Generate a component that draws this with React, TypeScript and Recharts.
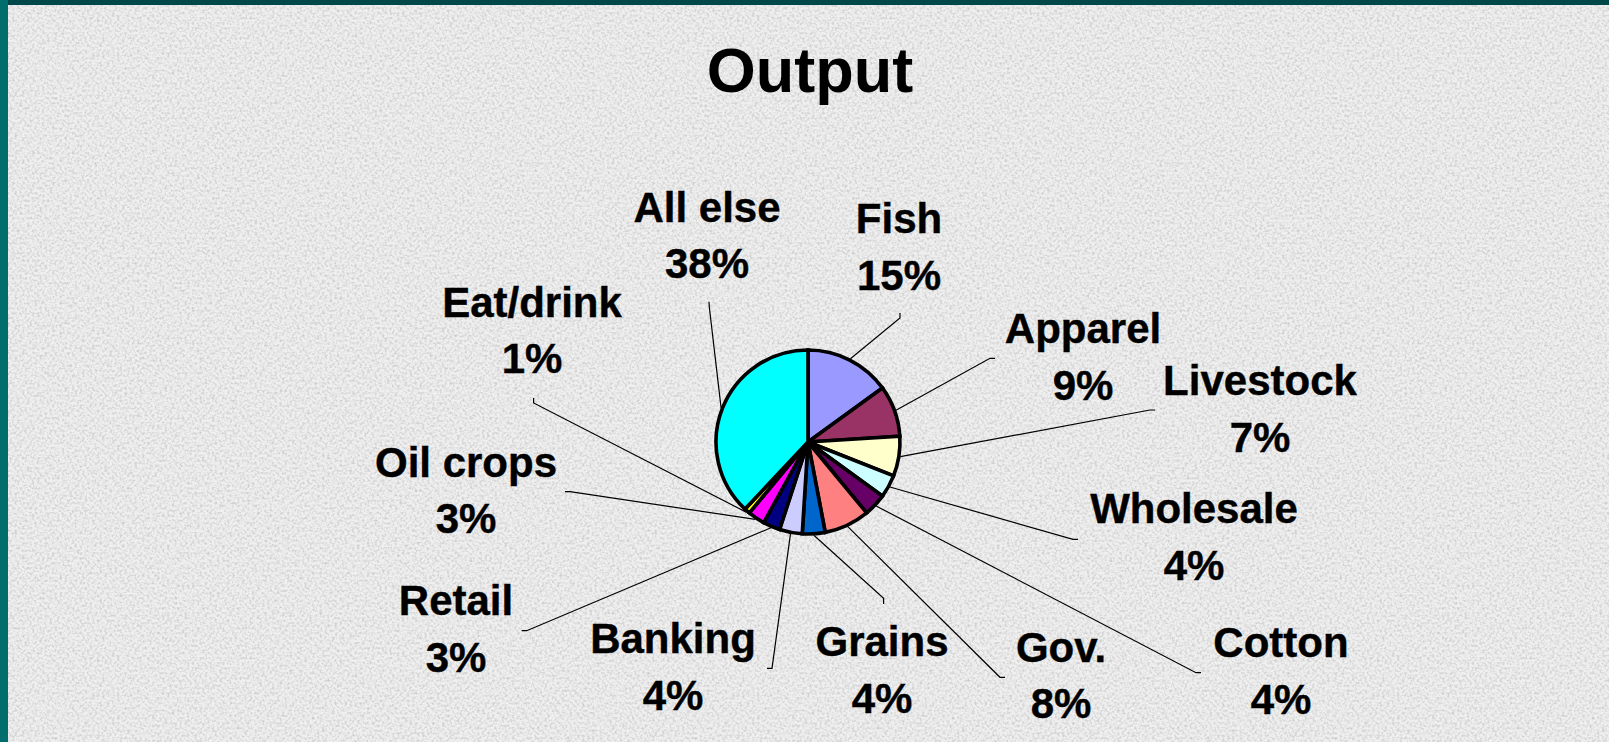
import React from 'react';
import { PieChart, Pie, Cell } from 'recharts';

const categories = ['Fish', 'Apparel', 'Livestock', 'Wholesale', 'Cotton', 'Gov.', 'Grains', 'Banking', 'Retail', 'Oil crops', 'Eat/drink', 'All else'];
const shares = [15, 9, 7, 4, 4, 8, 4, 4, 3, 3, 1, 38];
const sliceColors = ['#9999FF', '#993366', '#FFFFCC', '#CCFFFF', '#660066', '#FF8080', '#0066CC', '#CCCCFF', '#000080', '#FF00FF', '#FFFF00', '#00FFFF'];

const data = categories.map((name, i) => ({ name, value: shares[i] }));

// label layout (offsets from pie centre): text centre/baseline, leader bend and end
const labelLayout = [
  { tx: 91, ty: -208.7, bx: 92, by: -124, ex: 92, ey: -129 },
  { tx: 275, ty: -98.7, bx: 182, by: -83.7, ex: 187, ey: -83.7 },
  { tx: 452, ty: -47, bx: 342, by: -32, ex: 347, ey: -32 },
  { tx: 386, ty: 81.3, bx: 265, by: 97.3, ex: 270, ey: 97.3 },
  { tx: 473, ty: 215, bx: 388, by: 230.7, ex: 393, ey: 230.7 },
  { tx: 253, ty: 219.7, bx: 192, by: 235.3, ex: 197, ey: 235.3 },
  { tx: 74, ty: 214, bx: 75.6, by: 156.3, ex: 75.6, ey: 162 },
  { tx: -135, ty: 211.3, bx: -36, by: 226.3, ex: -41, ey: 226.3 },
  { tx: -352, ty: 173, bx: -281.3, by: 188.7, ex: -286.3, ey: 188.7 },
  { tx: -342, ty: 34.7, bx: -238, by: 49.7, ex: -243, ey: 49.7 },
  { tx: -276, ty: -125.3, bx: -274.4, by: -39, ex: -274.4, ey: -44 },
  { tx: -101, ty: -220.3, bx: -98.7, by: -135, ex: -99, ey: -140.3 },
];

const FONT = '"Liberation Sans", Arial, Helvetica, sans-serif';
const RAD = Math.PI / 180;

const renderLabel = (props: any) => {
  const { cx, cy, midAngle, outerRadius, index, name, value } = props;
  const L = labelLayout[index];
  const r = outerRadius + 1.5;
  const sx = cx + r * Math.cos(-midAngle * RAD);
  const sy = cy + r * Math.sin(-midAngle * RAD);
  const tx = cx + L.tx;
  const ty = cy + L.ty;
  return (
    <g key={`lbl-${index}`}>
      <polyline
        points={`${sx},${sy} ${cx + L.bx},${cy + L.by} ${cx + L.ex},${cy + L.ey}`}
        fill="none"
        stroke="#000"
        strokeWidth={1.2}
      />
      <text
        x={tx}
        y={ty}
        textAnchor="middle"
        fontFamily={FONT}
        fontWeight="bold"
        fontSize={42}
        fill="#000"
        stroke="#000"
        strokeWidth={0.4}
      >
        <tspan x={tx} y={ty}>{name}</tspan>
        <tspan x={tx} y={ty + 56.7}>{`${value}%`}</tspan>
      </text>
    </g>
  );
};

export default function App() {
  return (
    <div
      style={{
        position: 'fixed',
        left: 0,
        top: 0,
        width: 1609,
        height: 742,
        background: '#efefef',
        overflow: 'hidden',
      }}
    >
      <svg width={1609} height={742} style={{ position: 'absolute', left: 0, top: 0 }}>
        <defs>
          <filter id="speckle" x="0" y="0" width="100%" height="100%">
            <feTurbulence type="fractalNoise" baseFrequency="0.4" numOctaves={2} seed={7} result="t" />
            <feColorMatrix
              in="t"
              type="matrix"
              values="0 0 0 0 0.6  0 0 0 0 0.6  0 0 0 0 0.6  2.4 0 0 0 -1.0"
            />
          </filter>
        </defs>
        <rect x={0} y={0} width={1609} height={742} filter="url(#speckle)" />
        <rect x={0} y={0} width={1609} height={5} fill="#004848" />
        <rect x={0} y={0} width={8} height={742} fill="#006e6c" />
        <text
          x={810}
          y={91.7}
          textAnchor="middle"
          fontFamily={FONT}
          fontWeight="bold"
          fontSize={63}
          fill="#000"
        >
          Output
        </text>
      </svg>
      <div style={{ position: 'absolute', left: 0, top: 0 }}>
        <PieChart width={1609} height={742} margin={{ top: 0, right: 0, bottom: 0, left: 0 }}>
          <Pie
            data={data}
            dataKey="value"
            nameKey="name"
            cx={808}
            cy={442}
            outerRadius={92}
            startAngle={90}
            endAngle={-270}
            stroke="#000"
            strokeWidth={3.6}
            label={renderLabel}
            labelLine={false}
            isAnimationActive={false}
          >
            {data.map((d, i) => (
              <Cell key={d.name} fill={sliceColors[i]} stroke="#000" strokeWidth={3.6} />
            ))}
          </Pie>
        </PieChart>
      </div>
    </div>
  );
}
